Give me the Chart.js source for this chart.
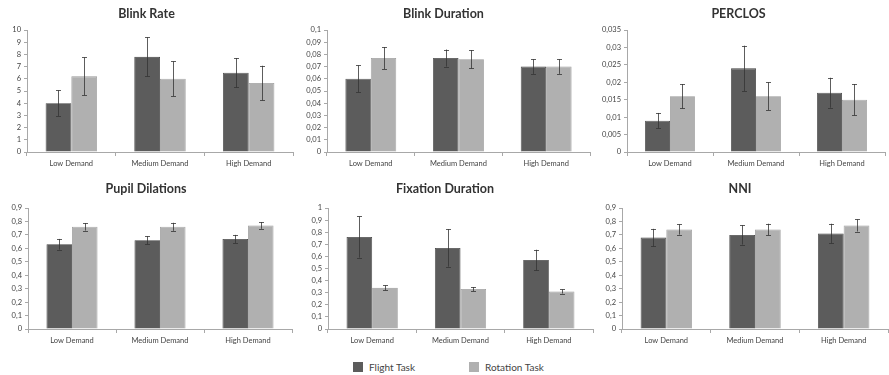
<!DOCTYPE html>
<html>
<head>
<meta charset="utf-8">
<script src="https://cdn.jsdelivr.net/npm/chart.js@4/dist/chart.umd.min.js"></script>
<style>
  body { margin:0; background:#fff; width:889px; height:375px; overflow:hidden; position:relative; font-family:Lato, sans-serif; }
  canvas { position:absolute; }
  .legend { position:absolute; top:361px; font-size:10px; color:#444; display:flex; align-items:center; }
  .legend span.box { display:inline-block; width:10px; height:10px; margin-right:6px; }
</style>
</head>
<body>
<canvas id="c1"></canvas>
<canvas id="c2"></canvas>
<canvas id="c3"></canvas>
<canvas id="c4"></canvas>
<canvas id="c5"></canvas>
<canvas id="c6"></canvas>
<div class="legend" style="left:353px"><span class="box" style="background:#5c5c5c"></span>Flight Task</div>
<div class="legend" style="left:469px"><span class="box" style="background:#b0b0b0"></span>Rotation Task</div>
<script>
// --- categories / series ---
const categories = ['Low Demand', 'Medium Demand', 'High Demand'];
const seriesNames = ['Flight Task', 'Rotation Task'];

// --- values (mean and +/- error) ---
const blinkRateFlight = [4.0, 7.8, 6.5];
const blinkRateFlightErr = [1.05, 1.6, 1.2];
const blinkRateRotation = [6.2, 6.0, 5.65];
const blinkRateRotationErr = [1.55, 1.42, 1.42];

const blinkDurFlight = [0.060, 0.077, 0.070];
const blinkDurFlightErr = [0.011, 0.007, 0.006];
const blinkDurRotation = [0.077, 0.076, 0.070];
const blinkDurRotationErr = [0.009, 0.0075, 0.006];

const perclosFlight = [0.009, 0.024, 0.017];
const perclosFlightErr = [0.0022, 0.0065, 0.0043];
const perclosRotation = [0.016, 0.016, 0.015];
const perclosRotationErr = [0.0035, 0.004, 0.0045];

const pupilFlight = [0.63, 0.66, 0.67];
const pupilFlightErr = [0.04, 0.03, 0.03];
const pupilRotation = [0.76, 0.76, 0.77];
const pupilRotationErr = [0.028, 0.03, 0.025];

const fixationFlight = [0.76, 0.67, 0.57];
const fixationFlightErr = [0.17, 0.155, 0.085];
const fixationRotation = [0.34, 0.33, 0.31];
const fixationRotationErr = [0.02, 0.017, 0.017];

const nniFlight = [0.68, 0.70, 0.71];
const nniFlightErr = [0.065, 0.072, 0.073];
const nniRotation = [0.74, 0.74, 0.77];
const nniRotationErr = [0.038, 0.043, 0.045];

// axis ranges
const yMax = [10, 0.1, 0.035, 0.9, 1, 0.9];
const yStep = [1, 0.01, 0.005, 0.1, 0.1, 0.1];
const titles = ['Blink Rate', 'Blink Duration', 'PERCLOS', 'Pupil Dilations', 'Fixation Duration', 'NNI'];

const flightColor = '#5c5c5c';
const rotationColor = '#b0b0b0';
const axisColor = '#a8a8a8';
const textColor = '#444';

// error bar plugin, drawn through the chart's own y scale
const errorBars = {
    id: 'errorBars',
    afterDatasetsDraw(chart) {
        const ctx = chart.ctx;
        const yScale = chart.scales.y;
        ctx.save();
        ctx.strokeStyle = '#333';
        ctx.lineWidth = 0.8;
        chart.data.datasets.forEach((ds, di) => {
            const meta = chart.getDatasetMeta(di);
            meta.data.forEach((bar, i) => {
                const v = ds.data[i], e = ds.errors[i];
                const yTop = yScale.getPixelForValue(v + e);
                const yBot = yScale.getPixelForValue(v - e);
                const x = Math.round(bar.x) + 0.5;
                ctx.beginPath();
                ctx.moveTo(x, yTop); ctx.lineTo(x, yBot);
                ctx.moveTo(x - 2.5, Math.round(yTop) + 0.5); ctx.lineTo(x + 2.5, Math.round(yTop) + 0.5);
                ctx.moveTo(x - 2.5, Math.round(yBot) + 0.5); ctx.lineTo(x + 2.5, Math.round(yBot) + 0.5);
                ctx.stroke();
            });
        });
        ctx.restore();
    }
};

function fmt(v) {
    return String(Number(v.toFixed(4))).replace('.', ',');
}

// canvas boxes: left, top, width, height, y-axis width, right padding, title padding
const boxes = [
    {l:0,   t:0,   w:297, h:171, yw:27, pr:4, tp:{top:6, bottom:9}},
    {l:297, t:0,   w:295, h:171, yw:30, pr:2, tp:{top:6, bottom:9}},
    {l:592, t:0,   w:297, h:171, yw:35, pr:4, tp:{top:6, bottom:9}},
    {l:0,   t:172, w:297, h:176, yw:28, pr:5, tp:{top:9, bottom:12}},
    {l:297, t:172, w:297, h:176, yw:31, pr:1, tp:{top:9, bottom:12}},
    {l:592, t:172, w:297, h:176, yw:30, pr:1, tp:{top:9, bottom:12}}
];

const dataSets = [
    [blinkRateFlight, blinkRateFlightErr, blinkRateRotation, blinkRateRotationErr],
    [blinkDurFlight, blinkDurFlightErr, blinkDurRotation, blinkDurRotationErr],
    [perclosFlight, perclosFlightErr, perclosRotation, perclosRotationErr],
    [pupilFlight, pupilFlightErr, pupilRotation, pupilRotationErr],
    [fixationFlight, fixationFlightErr, fixationRotation, fixationRotationErr],
    [nniFlight, nniFlightErr, nniRotation, nniRotationErr]
];

dataSets.forEach((d, k) => {
    const b = boxes[k];
    const canvas = document.getElementById('c' + (k + 1));
    canvas.width = b.w; canvas.height = b.h;
    canvas.style.left = b.l + 'px'; canvas.style.top = b.t + 'px';
    new Chart(canvas.getContext('2d'), {
        type: 'bar',
        data: {
            labels: categories,
            datasets: [
                {label: seriesNames[0], data: d[0], errors: d[1], backgroundColor: flightColor, borderColor: '#404040', borderWidth: 0.8},
                {label: seriesNames[1], data: d[2], errors: d[3], backgroundColor: rotationColor, borderColor: '#999', borderWidth: 0.8}
            ]
        },
        options: {
            responsive: false,
            animation: false,
            layout: {padding: {left: 0, right: b.pr, bottom: 0, top: 0}},
            datasets: {bar: {categoryPercentage: 0.58, barPercentage: 1}},
            plugins: {
                legend: {display: false},
                tooltip: {enabled: false},
                title: {display: true, text: titles[k], color: '#333', padding: b.tp,
                        font: {family: 'Lato', size: 12.5, weight: 'bold'}}
            },
            scales: {
                x: {
                    grid: {display: true, drawOnChartArea: false, offset: true, tickLength: 4, color: axisColor},
                    border: {color: axisColor},
                    ticks: {color: textColor, padding: 3, font: {family: 'Lato', size: 7.5}, maxRotation: 0}
                },
                y: {
                    min: 0, max: yMax[k],
                    afterFit(scale) { scale.width = b.yw; },
                    grid: {display: true, drawOnChartArea: false, tickLength: 3, color: axisColor},
                    border: {color: axisColor},
                    ticks: {stepSize: yStep[k], color: textColor, padding: 3,
                            font: {family: 'Lato', size: 7.5}, callback: v => fmt(v)}
                }
            }
        },
        plugins: [errorBars]
    });
});
</script>
</body>
</html>
